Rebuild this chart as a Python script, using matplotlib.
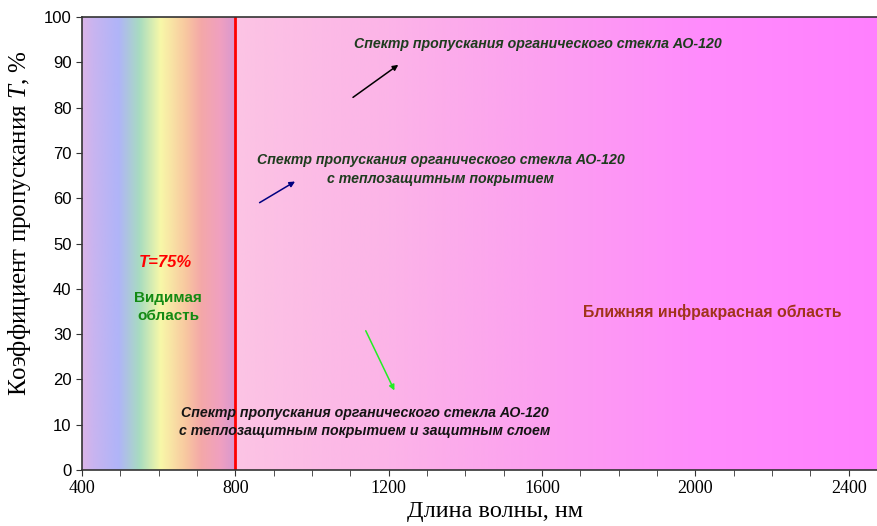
import numpy as np
import matplotlib
matplotlib.use("Agg")
import matplotlib.pyplot as plt
from matplotlib.colors import LinearSegmentedColormap, to_rgb

plt.rcParams['mathtext.fontset'] = 'custom'
plt.rcParams['mathtext.it'] = 'Liberation Serif:italic'
plt.rcParams['mathtext.rm'] = 'Liberation Serif'

# Data / labels
x_min, x_max = 400, 2481
y_min, y_max = 0, 100
x_ticks = [400, 800, 1200, 1600, 2000, 2400]
y_ticks = list(range(0, 101, 10))
boundary_nm = 800

# background gradient stops (wavelength, colour)
grad_nm = [400, 430, 495, 550, 605, 670, 710, 760, 799, 800, 1200, 1600, 2000, 2481]
grad_col = ['#dcb4e8', '#c8b4f0', '#b0b4f8', '#a8dcc0', '#f8f8a8', '#f8c8a0', '#f4a8a8',
            '#f0a0c0', '#d898d0', '#fcc4e4', '#fcb4e8', '#fca0f0', '#ff8cfc', '#ff80ff']

label1 = "Спектр пропускания органического стекла АО-120"
label2 = "Спектр пропускания органического стекла АО-120\nс теплозащитным покрытием"
label3 = "Спектр пропускания органического стекла АО-120\nс теплозащитным покрытием и защитным слоем"

fig = plt.figure(figsize=(8.78, 5.26), dpi=100)
ax = fig.add_axes([82/878, 1-470/526, 1-82/878 + 0.002, (470-17)/526])

# gradient image
pos = [(v - x_min) / (x_max - x_min) for v in grad_nm]
cmap = LinearSegmentedColormap.from_list('bg', list(zip(pos, [to_rgb(c) for c in grad_col])), N=2048)
grad = np.linspace(0, 1, 2048).reshape(1, -1)
ax.imshow(grad, extent=[x_min, x_max, y_min, y_max], aspect='auto', cmap=cmap,
          interpolation='bilinear', zorder=0)

ax.axvline(boundary_nm, color='#ff0000', lw=2, zorder=2)

ax.set_xlim(x_min, x_max)
ax.set_ylim(y_min, y_max)
ax.set_xticks(x_ticks)
ax.set_xticks(np.arange(500, 2481, 100), minor=True)
ax.set_yticks(y_ticks)
ax.tick_params(axis='x', which='both', direction='out', length=4, color='#333333')
ax.tick_params(axis='y', which='both', direction='out', length=4, color='#333333')
for lab in ax.get_xticklabels():
    lab.set_fontfamily('Liberation Serif')
    lab.set_fontsize(13)
for lab in ax.get_yticklabels():
    lab.set_fontfamily('Liberation Sans')
    lab.set_fontsize(12)
for s in ax.spines.values():
    s.set_color('#333333')
    s.set_linewidth(1.2)

ax.set_xlabel("Длина волны, нм", family='Liberation Serif', fontsize=17.5)
ax.xaxis.set_label_coords(0.518, -0.068)
ax.set_ylabel("Коэффициент пропускания $\\mathit{T}$, %", family='Liberation Serif', fontsize=18)
ax.yaxis.set_label_coords(-0.061, 0.545)

tkw = dict(family='Liberation Sans', fontweight='bold', style='italic', fontsize=10.2,
           ha='center', va='center', linespacing=1.45, zorder=5)
ax.text(1590, 94, label1, color='#1e3c1e', **tkw)
ax.text(1336, 66.4, label2, color='#1e3c1e', **tkw)
ax.text(1137, 10.6, label3, color='#141414', **tkw)

ax.annotate('', xy=(1231, 89.8), xytext=(1101, 81.9),
            arrowprops=dict(arrowstyle='-|>', color='black', lw=1.1, mutation_scale=8), zorder=5)
ax.annotate('', xy=(962, 64.0), xytext=(857, 58.7),
            arrowprops=dict(arrowstyle='-|>', color='#000080', lw=1.1, mutation_scale=8), zorder=5)
ax.annotate('', xy=(1218, 17.0), xytext=(1137, 31.3),
            arrowprops=dict(arrowstyle='-|>', color='#22ee22', lw=1.1, mutation_scale=8), zorder=5)

ax.text(617, 45.9, "T=75%", color='#ff0000', family='Liberation Sans', fontweight='bold',
        style='italic', fontsize=12, ha='center', va='center', zorder=5)
ax.text(625, 36, "Видимая\nобласть", color='#138a13', family='Liberation Sans', fontweight='bold',
        fontsize=11, ha='center', va='center', linespacing=1.3, zorder=5)
ax.text(2044, 34.9, "Ближняя инфракрасная область", color='#a0341a', family='Liberation Sans',
        fontweight='bold', fontsize=11.4, ha='center', va='center', zorder=5)

fig.savefig('out.png', dpi=100)
